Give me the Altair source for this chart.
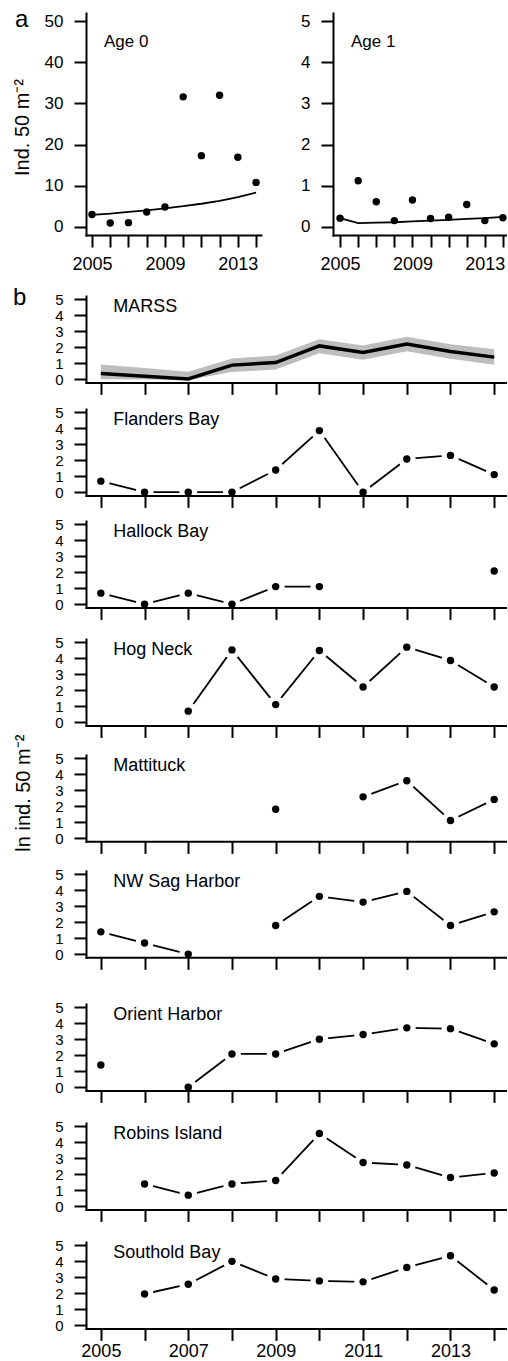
import altair as alt
import pandas as pd

# ---------------- data ----------------
years = [2005, 2006, 2007, 2008, 2009, 2010, 2011, 2012, 2013, 2014]

age0_obs = [3.0, 0.9, 1.0, 3.6, 4.8, 31.6, 17.3, 32.0, 16.9, 10.8]
age0_fit = [2.9, 3.2, 3.6, 4.0, 4.5, 5.0, 5.6, 6.3, 7.2, 8.3]
age1_obs = [0.21, 1.12, 0.61, 0.15, 0.65, 0.20, 0.23, 0.54, 0.15, 0.22]
age1_fit = [0.21, 0.09, 0.10, 0.11, 0.13, 0.15, 0.17, 0.19, 0.21, 0.24]

marss_mean = [0.35, 0.18, 0.02, 0.88, 1.04, 2.08, 1.67, 2.20, 1.73, 1.38]
marss_lo = [0.0, -0.02, -0.05, 0.45, 0.60, 1.62, 1.22, 1.75, 1.28, 0.90]
marss_hi = [0.92, 0.70, 0.47, 1.30, 1.48, 2.50, 2.10, 2.65, 2.18, 1.87]

flanders = [0.69, 0.0, 0.0, 0.0, 1.39, 3.85, 0.0, 2.08, 2.30, 1.10]
hallock = [0.69, 0.0, 0.69, 0.0, 1.10, 1.10, None, None, None, 2.08]
hog_neck = [None, None, 0.69, 4.52, 1.10, 4.48, 2.20, 4.69, 3.86, 2.20]
mattituck = [None, None, None, None, 1.81, None, 2.58, 3.59, 1.10, 2.42]
nw_sag = [1.39, 0.69, 0.0, None, 1.79, 3.61, 3.25, 3.92, 1.79, 2.64]
orient = [1.39, None, 0.0, 2.08, 2.08, 3.00, 3.29, 3.71, 3.66, 2.71]
robins = [None, 1.39, 0.69, 1.39, 1.61, 4.54, 2.73, 2.58, 1.79, 2.08]
southold = [None, 1.95, 2.56, 3.99, 2.89, 2.77, 2.71, 3.61, 4.34, 2.20]

site_names = ["Flanders Bay", "Hallock Bay", "Hog Neck", "Mattituck",
              "NW Sag Harbor", "Orient Harbor", "Robins Island", "Southold Bay"]
site_values = [flanders, hallock, hog_neck, mattituck, nw_sag, orient, robins, southold]

a0_ticks = [0, 10, 20, 30, 40, 50]
a1_ticks = [0, 1, 2, 3, 4, 5]
b_ticks = [0, 1, 2, 3, 4, 5]
a_label_years = [2005, 2009, 2013]
b_label_years = [2005, 2007, 2009, 2011, 2013]

# ---------------- layout / style ----------------
FONT = "Liberation Sans, Arial, Helvetica, sans-serif"
LEFT = 86
H_A = 222
W_AL = 175
W_AR = 173
W_B = 420
H_B = 86.4
B_A = 44
b_tops = [295.8, 408.5, 520.1, 637.8, 752.8, 868.5, 1001.5, 1119.8, 1238.8]

AX = dict(grid=False, domainColor="black", domainWidth=2, domainCap="square",
          tickColor="black", tickWidth=2, tickSize=12, labelColor="black",
          labelFont=FONT, labelOverlap=False, labelFlush=False, zindex=1)


def lab_expr(vals):
    return ("indexof([" + ",".join(str(v) for v in vals) +
            "], datum.value) >= 0 ? format(datum.value, 'd') : ''")


def anchor(height, top, bottom):
    df = pd.DataFrame({"k": [0]})
    return alt.Chart(df).mark_rule(color="white", strokeOpacity=0).encode(
        x=alt.value(-LEFT), y=alt.value(-top), y2=alt.value(height + bottom))


def text(t, x, y, size, angle=0, align="left", baseline="alphabetic"):
    df = pd.DataFrame({"t": [t]})
    return alt.Chart(df).mark_text(
        align=align, baseline=baseline, fontSize=size, font=FONT,
        color="black", angle=angle).encode(
        text="t:N", x=alt.value(x), y=alt.value(y))


def a_panel(obs, fit, ydom, yticks, xdom, width, title, extra):
    df = pd.DataFrame({"year": years, "obs": obs, "fit": fit})
    xs = alt.Scale(domain=xdom, nice=False, zero=False)
    ys = alt.Scale(domain=ydom, nice=False, zero=False)
    xax = alt.Axis(title=None, values=years, labelExpr=lab_expr(a_label_years),
                   labelFontSize=18, labelPadding=8, **AX)
    yax = alt.Axis(title=None, values=yticks, labelFontSize=17, labelPadding=11,
                   format="d", **AX)
    line = alt.Chart(df).mark_line(color="black", strokeWidth=1.8).encode(
        x=alt.X("year:Q", scale=xs, axis=xax),
        y=alt.Y("fit:Q", scale=ys, axis=yax))
    pts = alt.Chart(df).mark_circle(size=55, color="black", opacity=1).encode(
        x=alt.X("year:Q", scale=xs, axis=xax),
        y=alt.Y("obs:Q", scale=ys, axis=yax))
    layers = [anchor(H_A, 13, B_A), line, pts, text(title, 18, 34, 17)] + extra
    return alt.layer(*layers).properties(width=width, height=H_A)


xdom_b = [2004.66, 2014.27]
ys_b = alt.Scale(domain=[-0.2, 5.2], nice=False, zero=False)


def b_axes(last):
    if last:
        xax = alt.Axis(title=None, values=years, labelExpr=lab_expr(b_label_years),
                       labelFontSize=18, labelPadding=2, **AX)
    else:
        xax = alt.Axis(title=None, values=years, labels=False, **AX)
    yax = alt.Axis(title=None, values=b_ticks, labelFontSize=15, labelPadding=11,
                   format="d", **AX)
    return xax, yax


def site_panel(name, vals, top, bottom, last=False, extra=None):
    xs = alt.Scale(domain=xdom_b, nice=False, zero=False)
    xax, yax = b_axes(last)
    pts_df = pd.DataFrame({"year": years, "v": vals}).dropna()
    rows = []
    for i in range(len(years) - 1):
        if vals[i] is not None and vals[i + 1] is not None:
            rows.append({"year": years[i], "v": vals[i],
                         "year2": years[i + 1], "v2": vals[i + 1]})
    seg_df = pd.DataFrame(rows)
    segs = alt.Chart(seg_df).mark_rule(color="black", strokeWidth=1.8).encode(
        x=alt.X("year:Q", scale=xs, axis=xax),
        y=alt.Y("v:Q", scale=ys_b, axis=yax),
        x2="year2:Q", y2="v2:Q")
    gaps = alt.Chart(pts_df).mark_circle(size=320, color="white", opacity=1).encode(
        x=alt.X("year:Q", scale=xs, axis=xax),
        y=alt.Y("v:Q", scale=ys_b, axis=yax))
    pts = alt.Chart(pts_df).mark_circle(size=55, color="black", opacity=1).encode(
        x=alt.X("year:Q", scale=xs, axis=xax),
        y=alt.Y("v:Q", scale=ys_b, axis=yax))
    layers = [anchor(H_B, top, bottom), segs, gaps, pts, text(name, 27.3, 16, 18)]
    if extra:
        layers += extra
    return alt.layer(*layers).properties(width=W_B, height=H_B)


def marss_panel(top, bottom):
    xs = alt.Scale(domain=xdom_b, nice=False, zero=False)
    xax, yax = b_axes(False)
    df = pd.DataFrame({"year": years, "m": marss_mean, "lo": marss_lo, "hi": marss_hi})
    band = alt.Chart(df).mark_area(color="#bebebe", opacity=1).encode(
        x=alt.X("year:Q", scale=xs, axis=xax),
        y=alt.Y("lo:Q", scale=ys_b, axis=yax),
        y2="hi:Q")
    line = alt.Chart(df).mark_line(color="black", strokeWidth=3.5).encode(
        x=alt.X("year:Q", scale=xs, axis=xax),
        y=alt.Y("m:Q", scale=ys_b, axis=yax))
    layers = [anchor(H_B, top, bottom), band, line,
              text("MARSS", 27.3, 16, 18), text("b", -73, 9.2, 24)]
    return alt.layer(*layers).properties(width=W_B, height=H_B)


# ---------------- panel a ----------------
a_left = a_panel(age0_obs, age0_fit, [-2, 52], a0_ticks, [2004.67, 2014.27], W_AL,
                 "Age 0",
                 [text("a", -71, 14, 24),
                  text("Ind. 50 m\u207b\u00b2", -63, 114.5, 20, angle=270,
                       align="center", baseline="middle")])
a_right = a_panel(age1_obs, age1_fit, [-0.2, 5.2], a1_ticks, [2004.61, 2014.17], W_AR,
                  "Age 1", [])
a_row = alt.hconcat(a_left, a_right, spacing=333 - (LEFT + W_AL), bounds="flush")

# ---------------- panel b ----------------
T_OTHER = 10
tops = [b_tops[0] - (13 + H_A) - B_A] + [T_OTHER] * 8
gaps_px = [b_tops[i + 1] - (b_tops[i] + H_B) for i in range(8)]
bottoms = [g - T_OTHER for g in gaps_px] + [14]

b_panels = [marss_panel(tops[0], bottoms[0])]
for k, (name, vals) in enumerate(zip(site_names, site_values)):
    idx = k + 1
    extra = None
    if name == "Mattituck":
        extra = [text("ln ind. 50 m\u207b\u00b2", -62, 38.2, 20, angle=270,
                      align="center", baseline="middle")]
    b_panels.append(site_panel(name, vals, tops[idx], bottoms[idx],
                               last=(idx == 8), extra=extra))

# Hog Neck, Mattituck and NW Sag Harbor share a flush group so that the
# long rotated y title does not push the panels apart
mid_spacing = (gaps_px[3] + gaps_px[4]) / 2
mid_group = alt.vconcat(b_panels[3], b_panels[4], b_panels[5],
                        spacing=mid_spacing, bounds="flush")

chart = alt.vconcat(a_row, b_panels[0], b_panels[1], b_panels[2], mid_group,
                    b_panels[6], b_panels[7], b_panels[8], spacing=0).configure_view(
    strokeOpacity=0).properties(padding=0)

chart.save("out.html", embed_options={"renderer": "svg", "actions": False})
